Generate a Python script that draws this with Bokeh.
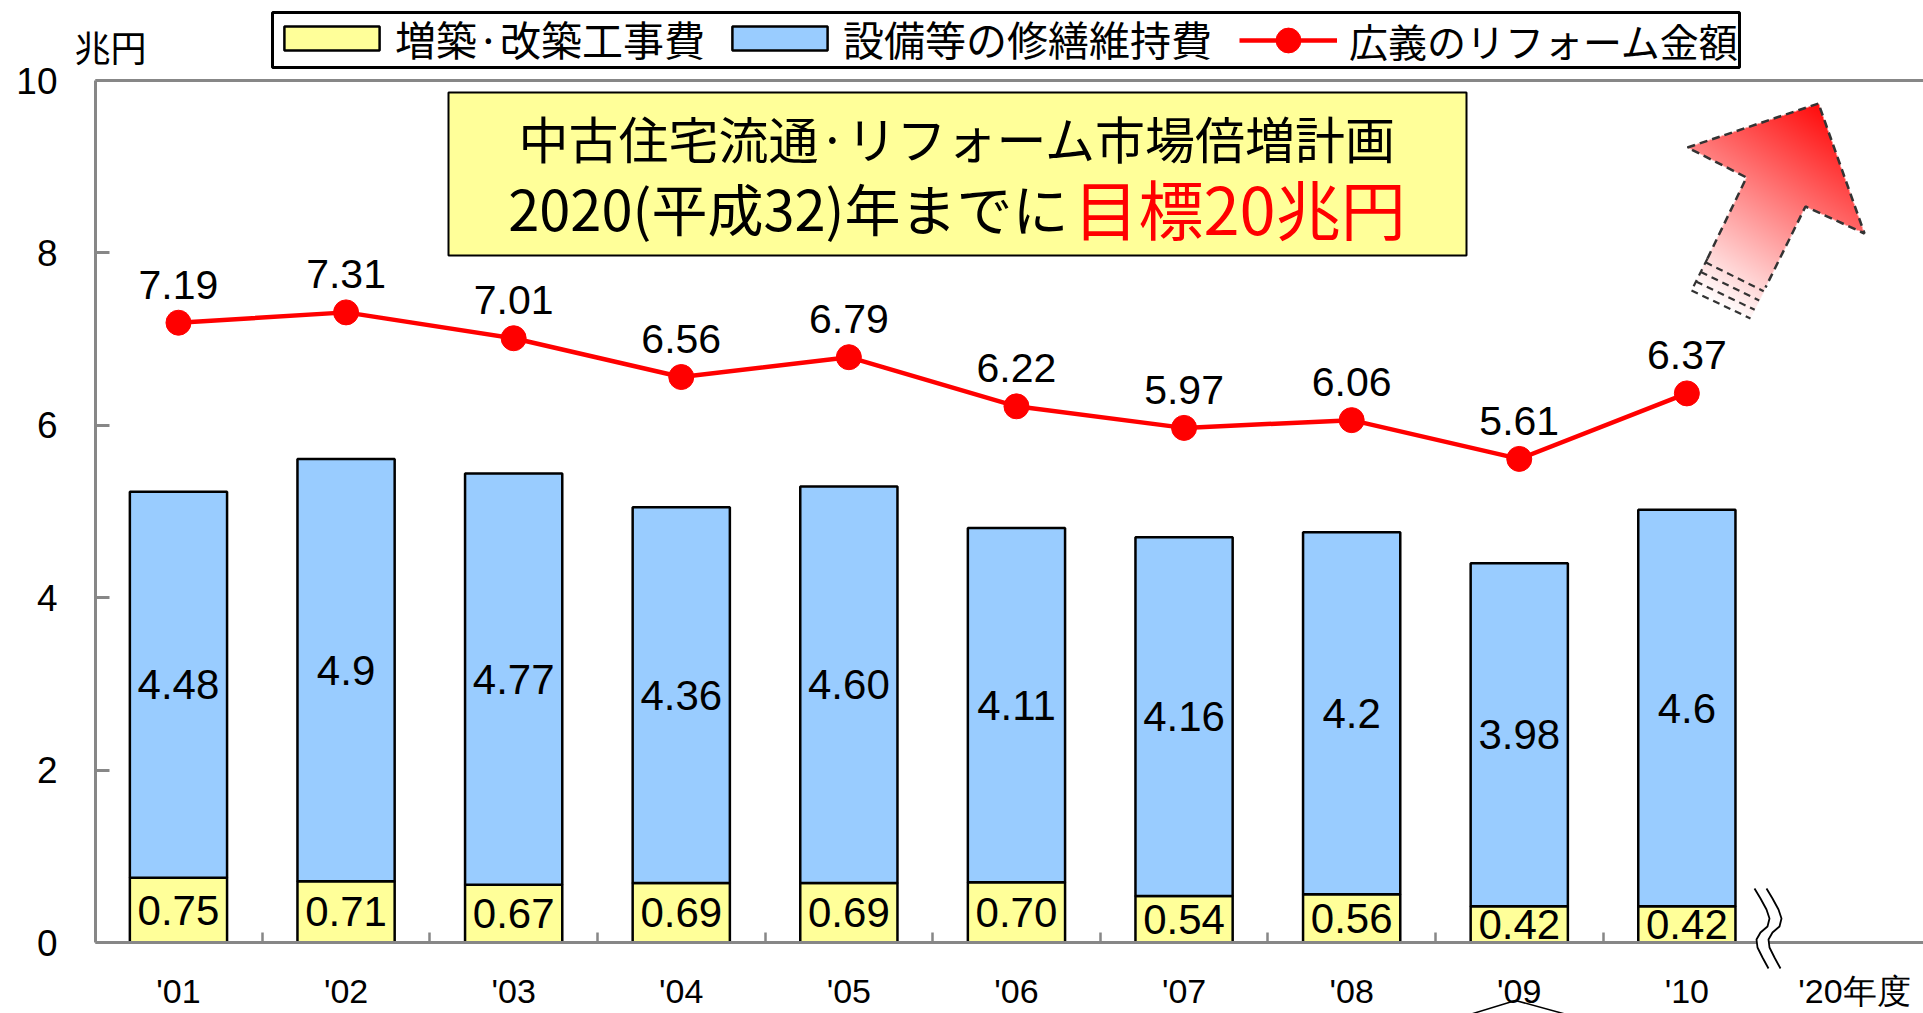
import numpy as np
from bokeh.plotting import figure
from bokeh.models import (ColumnDataSource, FixedTicker, Legend, LegendItem,
                          Label, PolyAnnotation, BoxAnnotation, Range1d)
from bokeh.core.properties import value
from bokeh.embed import file_html
from bokeh.resources import INLINE

# ---------------- data ----------------
years = ["'01", "'02", "'03", "'04", "'05", "'06", "'07", "'08", "'09", "'10"]
target_label = "'20年度"
extension = [0.75, 0.71, 0.67, 0.69, 0.69, 0.70, 0.54, 0.56, 0.42, 0.42]
extension_text = ["0.75", "0.71", "0.67", "0.69", "0.69", "0.70", "0.54", "0.56", "0.42", "0.42"]
maintenance = [4.48, 4.90, 4.77, 4.36, 4.60, 4.11, 4.16, 4.20, 3.98, 4.60]
maintenance_text = ["4.48", "4.9", "4.77", "4.36", "4.60", "4.11", "4.16", "4.2", "3.98", "4.6"]
reform_total = [7.19, 7.31, 7.01, 6.56, 6.79, 6.22, 5.97, 6.06, 5.61, 6.37]
reform_text = ["7.19", "7.31", "7.01", "6.56", "6.79", "6.22", "5.97", "6.06", "5.61", "6.37"]
y_ticks = [0, 2, 4, 6, 8, 10]
unit_label = "兆円"
legend_labels = ["増築·改築工事費", "設備等の修繕維持費", "広義のリフォーム金額"]
title_line1 = "中古住宅流通·リフォーム市場倍増計画"
title_line2a = "2020(平成32)年までに"
title_line2b = "目標20兆円"

# ---------------- layout ----------------
W, H = 1923, 1013
AX_L, AX_T, AX_B = 95, 80, 942       # axis-box pixel positions
X0 = 0.505                           # data x at the y axis
PXU = 167.6                          # px per category
PYU = (AX_B - AX_T) / 10.0           # px per unit


def dx(px):
    return X0 + (px - AX_L) / PXU


def dy(py):
    return (AX_B - py) / PYU


GRAY = "#878787"
YELLOW = "#FFFF99"
BLUE = "#99CCFF"
RED = "#FF0000"
NUM_FONT = "Liberation Sans"
CJK_FONT = "Noto Sans CJK JP"

p = figure(width=W, height=H, x_range=Range1d(dx(0), dx(W)),
           y_range=Range1d(dy(H), dy(0)),
           output_backend="svg", toolbar_location=None, min_border=0)
p.outline_line_color = None
p.grid.visible = False
p.background_fill_color = "white"
p.border_fill_color = "white"

# y axis
p.yaxis.fixed_location = X0
p.yaxis.bounds = (0, 10)
p.yaxis.ticker = FixedTicker(ticks=y_ticks)
p.yaxis.axis_line_color = GRAY
p.yaxis.axis_line_width = 3
p.yaxis.major_tick_in = 14
p.yaxis.major_tick_out = 0
p.yaxis.major_tick_line_color = GRAY
p.yaxis.major_tick_line_width = 3
p.yaxis.minor_tick_line_color = None
p.yaxis.major_label_text_font = NUM_FONT
p.yaxis.major_label_text_font_size = "37px"
p.yaxis.major_label_text_color = "black"
p.yaxis.major_label_standoff = 38

# x axis
xs = list(range(1, len(years) + 1))
all_labels = years + [target_label]
p.xaxis.fixed_location = 0
p.xaxis.bounds = (X0, dx(W))
p.xaxis.ticker = FixedTicker(ticks=list(range(1, len(all_labels) + 1)),
                             minor_ticks=[i + 0.5 for i in range(1, len(years))])
p.xaxis.major_label_overrides = {i + 1: lab for i, lab in enumerate(all_labels)}
p.xaxis.axis_line_color = GRAY
p.xaxis.axis_line_width = 3
p.xaxis.major_tick_in = 0
p.xaxis.major_tick_out = 0
p.xaxis.major_tick_line_color = None
p.xaxis.minor_tick_in = 10
p.xaxis.minor_tick_out = 0
p.xaxis.minor_tick_line_color = GRAY
p.xaxis.minor_tick_line_width = 2.5
p.xaxis.major_label_text_font = NUM_FONT
p.xaxis.major_label_text_font_size = "34px"
p.xaxis.major_label_text_color = "black"
p.xaxis.major_label_standoff = 29

# top frame line
p.segment(x0=[X0], y0=[10], x1=[dx(W)], y1=[10], line_color=GRAY, line_width=3)

# ---------------- bars ----------------
tops = [e + m for e, m in zip(extension, maintenance)]
src = ColumnDataSource(dict(
    x=xs, ext=extension, top=tops,
    ext_mid=[e / 2 for e in extension],
    main_mid=[e + m / 2 for e, m in zip(extension, maintenance)],
    ext_text=extension_text, main_text=maintenance_text,
    total=reform_total, total_text=reform_text))

BAR_W = 0.58
r_ext = p.vbar(x="x", bottom=0, top="ext", width=BAR_W, fill_color=YELLOW,
               line_color="black", line_width=2.5, source=src)
r_main = p.vbar(x="x", bottom="ext", top="top", width=BAR_W, fill_color=BLUE,
                line_color="black", line_width=2.5, source=src)

p.text(x="x", y="ext_mid", text="ext_text", source=src, text_align="center",
       text_baseline="middle", text_font=value(NUM_FONT), text_font_size="42px",
       text_color="black")
p.text(x="x", y="main_mid", text="main_text", source=src, text_align="center",
       text_baseline="middle", text_font=value(NUM_FONT), text_font_size="42px",
       text_color="black")

# ---------------- line ----------------
r_line = p.line(x="x", y="total", source=src, line_color=RED, line_width=4.5)
r_pts = p.scatter(x="x", y="total", source=src, size=25, fill_color=RED,
                  line_color=RED)
p.text(x="x", y="total", text="total_text", source=src, text_align="center",
       text_baseline="middle", y_offset=-38, text_font=value(NUM_FONT),
       text_font_size="41px", text_color="black")

# ---------------- arrow (gradient) ----------------
tip = (1818, 103)
lbarb = (1687, 147)
lnotch = (1746, 177)
rbarb = (1864, 233)
rnotch = (1805, 206)
shaft_l = (1707, 258)
shaft_r = (1765, 287)
tail_l = (1691, 290)
tail_r = (1750, 318)
fill_poly = [tip, rbarb, rnotch, tail_r, tail_l, lnotch, lbarb]

IX0, IX1, IY0, IY1 = 1675, 1880, 90, 325  # pixel box (top=IY0)
iw, ih = IX1 - IX0, IY1 - IY0
cols = IX0 + np.arange(iw) + 0.5
rows = IY1 - np.arange(ih) - 0.5  # row 0 at bottom
PX, PY = np.meshgrid(cols, rows)
inside = np.zeros(PX.shape, bool)
n = len(fill_poly)
for i in range(n):
    x1_, y1_ = fill_poly[i]
    x2_, y2_ = fill_poly[(i + 1) % n]
    cond = (y1_ > PY) != (y2_ > PY)
    xint = (x2_ - x1_) * (PY - y1_) / ((y2_ - y1_) + 1e-12) + x1_
    inside ^= cond & (PX < xint)
A = np.array([1700.0, 292.0])
B = np.array([1832.0, 100.0])
AB = B - A
t = ((PX - A[0]) * AB[0] + (PY - A[1]) * AB[1]) / (AB @ AB)
t = np.clip(t, 0, 1)
img = np.zeros((ih, iw), dtype=np.uint32)
view = img.view(dtype=np.uint8).reshape((ih, iw, 4))
view[..., 0] = 255
view[..., 1] = (255 * (1 - t)).astype(np.uint8)
view[..., 2] = (255 * (1 - t)).astype(np.uint8)
view[..., 3] = np.where(inside, 255, 0).astype(np.uint8)
p.image_rgba(image=[img], x=dx(IX0), y=dy(IY1), dw=iw / PXU, dh=ih / PYU)

outline = [shaft_l, lnotch, lbarb, tip, rbarb, rnotch, shaft_r]
p.line([dx(a) for a, b in outline], [dy(b) for a, b in outline],
       line_color="#333333", line_width=2.5, line_dash="8 5")


def lerp(a, b, f):
    return (a[0] + (b[0] - a[0]) * f, a[1] + (b[1] - a[1]) * f)


for f in [0.12, 0.42, 0.72, 1.0]:
    a = lerp(shaft_l, tail_l, f)
    b = lerp(shaft_r, tail_r, f)
    p.line([dx(a[0]), dx(b[0])], [dy(a[1]), dy(b[1])], line_color="#333333",
           line_width=2.2, line_dash="7 5")
p.line([dx(shaft_l[0]), dx(tail_l[0])], [dy(shaft_l[1]), dy(tail_l[1])],
       line_color="#333333", line_width=2.2, line_dash="7 5")

# ---------------- title box ----------------
p.add_layout(BoxAnnotation(left=dx(448), right=dx(1466), bottom=dy(255), top=dy(92),
                           fill_color=YELLOW, fill_alpha=1.0, line_color="black",
                           line_alpha=1.0, line_width=2))
p.add_layout(Label(x=dx(957), y=dy(136), text=title_line1, text_align="center",
                   text_baseline="middle", text_font=CJK_FONT, text_font_size="50px",
                   text_color="black"))
p.add_layout(Label(x=dx(1068), y=dy(206), text=title_line2a, text_align="right",
                   text_baseline="middle", text_font=CJK_FONT,
                   text_font_size="56px", text_color="black"))
p.add_layout(Label(x=dx(1073), y=dy(206), text=title_line2b, text_align="left",
                   text_baseline="middle", text_font=CJK_FONT,
                   text_font_size="65px", text_color=RED))

# unit label
p.add_layout(Label(x=dx(110), y=dy(45), text=unit_label, text_align="center",
                   text_baseline="middle", text_font=CJK_FONT, text_font_size="36px",
                   text_color="black"))

# ---------------- axis break marks ----------------
wave_px = [1754, 1760, 1766, 1769, 1767, 1760, 1756, 1757, 1762, 1768]
wave_py = [888, 898, 909, 918, 926, 932, 939, 947, 957, 968]
wave_px2 = [v + 12 for v in wave_px]
p.add_layout(PolyAnnotation(xs=[dx(v) for v in wave_px + wave_px2[::-1]],
                            ys=[dy(v) for v in wave_py + wave_py[::-1]],
                            fill_color="white", fill_alpha=1.0, line_color=None))
for wx in (wave_px, wave_px2):
    p.line([dx(v) for v in wx], [dy(v) for v in wave_py], line_color="black",
           line_width=1.8, level="overlay")
p.line([dx(1466), dx(1515), dx(1570)], [dy(1015), dy(1000), dy(1015)],
       line_color="black", line_width=1.5)

# ---------------- legend ----------------
LG_L, LG_R, LG_T, LG_B = 272, 1739, 12, 67
LG_MID = (LG_T + LG_B) / 2
p.add_layout(BoxAnnotation(left=dx(LG_L), right=dx(LG_R), top=dy(LG_T), bottom=dy(LG_B),
                           fill_color="white", fill_alpha=1.0, line_color="black",
                           line_alpha=1.0, line_width=3))
lab1_h = 41 * 1.21
legend1 = Legend(items=[LegendItem(label=legend_labels[0], renderers=[r_ext]),
                        LegendItem(label=legend_labels[1], renderers=[r_main])],
                 orientation="horizontal",
                 location=(LG_L, H - (LG_MID + (lab1_h + 8) / 2)), margin=0,
                 padding=4, spacing=15, label_standoff=4,
                 glyph_width=119, glyph_height=30,
                 label_text_font=CJK_FONT, label_text_font_size="41px",
                 label_text_color="black", border_line_color=None,
                 background_fill_alpha=0.0)
p.add_layout(legend1)
legend2 = Legend(items=[LegendItem(label=legend_labels[2], renderers=[r_line, r_pts])],
                 orientation="horizontal",
                 location=(1239, H - (LG_MID + 62 / 2)), margin=0,
                 padding=0, spacing=0, label_standoff=12,
                 glyph_width=98, glyph_height=62,
                 label_text_font=CJK_FONT, label_text_font_size="39px",
                 label_text_color="black", border_line_color=None,
                 background_fill_alpha=0.0)
p.add_layout(legend2)

open("out.html", "w").write(file_html(p, INLINE))
